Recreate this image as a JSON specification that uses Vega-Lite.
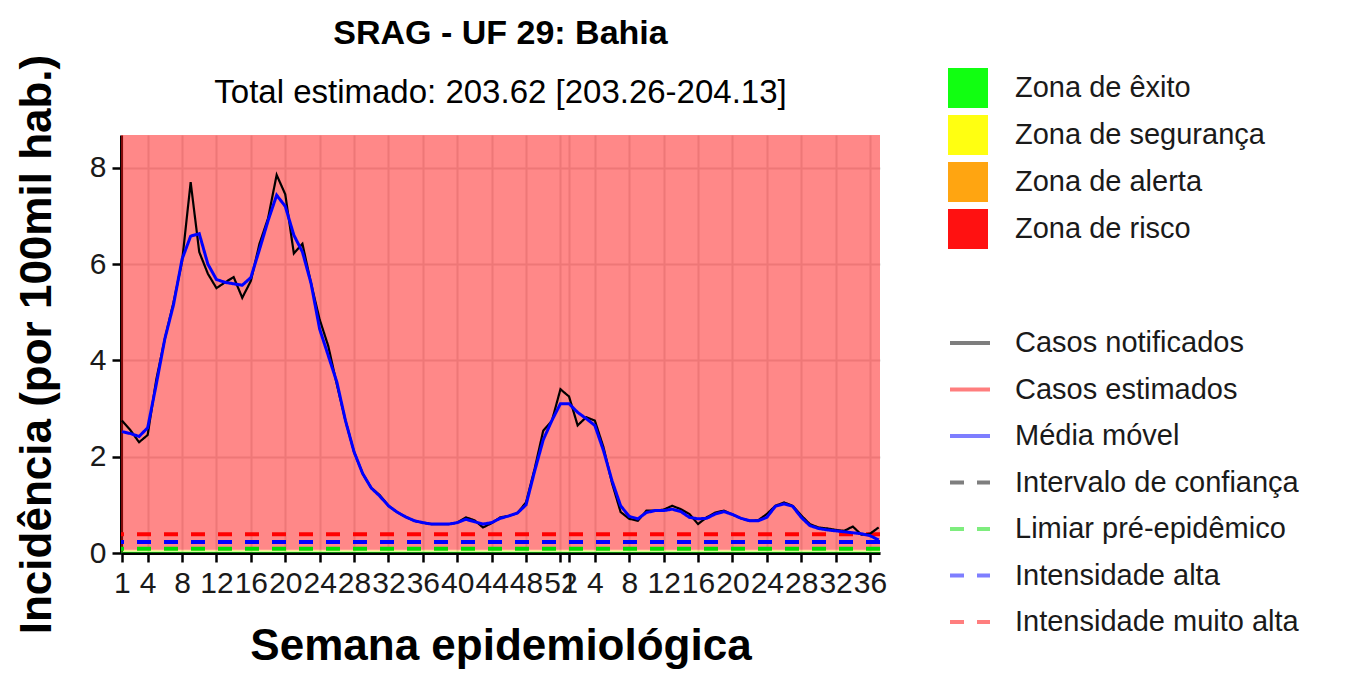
{
  "$schema": "https://vega.github.io/schema/vega-lite/v6.json",
  "width": 759,
  "height": 418,
  "autosize": {"type": "none"},
  "padding": {"left": 121, "top": 135, "right": 476, "bottom": 124},
  "background": "white",
  "title": {
    "text": "SRAG - UF 29: Bahia",
    "subtitle": "Total estimado: 203.62 [203.26-204.13]",
    "anchor": "middle",
    "font": "Liberation Sans",
    "fontSize": 34,
    "fontWeight": "bold",
    "color": "black",
    "subtitleFont": "Liberation Sans",
    "subtitleFontSize": 33,
    "subtitleColor": "black",
    "subtitlePadding": 26,
    "offset": -56
  },
  "config": {
    "font": "Liberation Sans",
    "view": {"stroke": null},
    "axis": {
      "domainColor": "black",
      "domainWidth": 3,
      "tickColor": "black",
      "tickSize": 9,
      "tickWidth": 2.5,
      "gridColor": "#dcdcdc",
      "gridWidth": 2,
      "labelFont": "Liberation Sans",
      "labelFontSize": 30,
      "labelColor": "#1a1a1a",
      "titleFont": "Liberation Sans",
      "titleFontSize": 44,
      "titleFontWeight": "bold",
      "titleColor": "black"
    }
  },
  "datasets": {
    "zonas": [
      {"zona": "Zona de êxito", "lo": 0, "hi": 0.03},
      {"zona": "Zona de segurança", "lo": 0.03, "hi": 0.05},
      {"zona": "Zona de alerta", "lo": 0.05, "hi": 0.07},
      {"zona": "Zona de risco", "lo": 0.07, "hi": 8.68}
    ],
    "limiares": [
      {"serie": "Limiar pré-epidêmico", "v": 0.09},
      {"serie": "Intensidade alta", "v": 0.23},
      {"serie": "Intensidade muito alta", "v": 0.39}
    ],
    "notificados": [
      {"i": 0, "v": 2.75}, {"i": 1, "v": 2.55}, {"i": 2, "v": 2.30}, {"i": 3, "v": 2.45}, {"i": 4, "v": 3.6},
      {"i": 5, "v": 4.45}, {"i": 6, "v": 5.2}, {"i": 7, "v": 6.05}, {"i": 8, "v": 7.70}, {"i": 9, "v": 6.25},
      {"i": 10, "v": 5.80}, {"i": 11, "v": 5.50}, {"i": 12, "v": 5.62}, {"i": 13, "v": 5.73}, {"i": 14, "v": 5.30},
      {"i": 15, "v": 5.65}, {"i": 16, "v": 6.42}, {"i": 17, "v": 6.95}, {"i": 18, "v": 7.85}, {"i": 19, "v": 7.45},
      {"i": 20, "v": 6.22}, {"i": 21, "v": 6.42}, {"i": 22, "v": 5.6}, {"i": 23, "v": 4.85}, {"i": 24, "v": 4.3},
      {"i": 25, "v": 3.5}, {"i": 26, "v": 2.75}, {"i": 27, "v": 2.1}, {"i": 28, "v": 1.65}, {"i": 29, "v": 1.35},
      {"i": 30, "v": 1.2}, {"i": 31, "v": 0.98}, {"i": 32, "v": 0.85}, {"i": 33, "v": 0.75}, {"i": 34, "v": 0.67},
      {"i": 35, "v": 0.63}, {"i": 36, "v": 0.60}, {"i": 37, "v": 0.60}, {"i": 38, "v": 0.60}, {"i": 39, "v": 0.63},
      {"i": 40, "v": 0.74}, {"i": 41, "v": 0.68}, {"i": 42, "v": 0.53}, {"i": 43, "v": 0.62}, {"i": 44, "v": 0.74},
      {"i": 45, "v": 0.77}, {"i": 46, "v": 0.83}, {"i": 47, "v": 1.05}, {"i": 48, "v": 1.75}, {"i": 49, "v": 2.54},
      {"i": 50, "v": 2.74}, {"i": 51, "v": 3.40}, {"i": 52, "v": 3.25}, {"i": 53, "v": 2.65}, {"i": 54, "v": 2.82},
      {"i": 55, "v": 2.75}, {"i": 56, "v": 2.2}, {"i": 57, "v": 1.45}, {"i": 58, "v": 0.85}, {"i": 59, "v": 0.71},
      {"i": 60, "v": 0.67}, {"i": 61, "v": 0.88}, {"i": 62, "v": 0.88}, {"i": 63, "v": 0.9}, {"i": 64, "v": 0.98},
      {"i": 65, "v": 0.91}, {"i": 66, "v": 0.81}, {"i": 67, "v": 0.60}, {"i": 68, "v": 0.74}, {"i": 69, "v": 0.84},
      {"i": 70, "v": 0.88}, {"i": 71, "v": 0.80}, {"i": 72, "v": 0.72}, {"i": 73, "v": 0.67}, {"i": 74, "v": 0.68},
      {"i": 75, "v": 0.81}, {"i": 76, "v": 0.98}, {"i": 77, "v": 1.05}, {"i": 78, "v": 0.98}, {"i": 79, "v": 0.78},
      {"i": 80, "v": 0.60}, {"i": 81, "v": 0.53}, {"i": 82, "v": 0.51}, {"i": 83, "v": 0.48}, {"i": 84, "v": 0.46},
      {"i": 85, "v": 0.55}, {"i": 86, "v": 0.38}, {"i": 87, "v": 0.40}, {"i": 88, "v": 0.53}
    ],
    "media": [
      {"i": 0, "v": 2.52}, {"i": 1, "v": 2.48}, {"i": 2, "v": 2.42}, {"i": 3, "v": 2.6}, {"i": 4, "v": 3.5},
      {"i": 5, "v": 4.45}, {"i": 6, "v": 5.15}, {"i": 7, "v": 6.1}, {"i": 8, "v": 6.58}, {"i": 9, "v": 6.63},
      {"i": 10, "v": 6.0}, {"i": 11, "v": 5.68}, {"i": 12, "v": 5.62}, {"i": 13, "v": 5.59}, {"i": 14, "v": 5.56},
      {"i": 15, "v": 5.72}, {"i": 16, "v": 6.3}, {"i": 17, "v": 6.9}, {"i": 18, "v": 7.43}, {"i": 19, "v": 7.2},
      {"i": 20, "v": 6.6}, {"i": 21, "v": 6.25}, {"i": 22, "v": 5.6}, {"i": 23, "v": 4.65}, {"i": 24, "v": 4.1},
      {"i": 25, "v": 3.55}, {"i": 26, "v": 2.75}, {"i": 27, "v": 2.1}, {"i": 28, "v": 1.65}, {"i": 29, "v": 1.35},
      {"i": 30, "v": 1.18}, {"i": 31, "v": 0.98}, {"i": 32, "v": 0.85}, {"i": 33, "v": 0.75}, {"i": 34, "v": 0.67},
      {"i": 35, "v": 0.63}, {"i": 36, "v": 0.60}, {"i": 37, "v": 0.60}, {"i": 38, "v": 0.60}, {"i": 39, "v": 0.63},
      {"i": 40, "v": 0.70}, {"i": 41, "v": 0.65}, {"i": 42, "v": 0.60}, {"i": 43, "v": 0.63}, {"i": 44, "v": 0.72},
      {"i": 45, "v": 0.77}, {"i": 46, "v": 0.83}, {"i": 47, "v": 1.0}, {"i": 48, "v": 1.7}, {"i": 49, "v": 2.35},
      {"i": 50, "v": 2.75}, {"i": 51, "v": 3.1}, {"i": 52, "v": 3.1}, {"i": 53, "v": 2.92}, {"i": 54, "v": 2.79},
      {"i": 55, "v": 2.65}, {"i": 56, "v": 2.13}, {"i": 57, "v": 1.5}, {"i": 58, "v": 0.98}, {"i": 59, "v": 0.76},
      {"i": 60, "v": 0.71}, {"i": 61, "v": 0.84}, {"i": 62, "v": 0.88}, {"i": 63, "v": 0.88}, {"i": 64, "v": 0.91},
      {"i": 65, "v": 0.86}, {"i": 66, "v": 0.74}, {"i": 67, "v": 0.71}, {"i": 68, "v": 0.72}, {"i": 69, "v": 0.81},
      {"i": 70, "v": 0.86}, {"i": 71, "v": 0.80}, {"i": 72, "v": 0.72}, {"i": 73, "v": 0.67}, {"i": 74, "v": 0.67},
      {"i": 75, "v": 0.74}, {"i": 76, "v": 0.97}, {"i": 77, "v": 1.02}, {"i": 78, "v": 0.97}, {"i": 79, "v": 0.74},
      {"i": 80, "v": 0.57}, {"i": 81, "v": 0.51}, {"i": 82, "v": 0.48}, {"i": 83, "v": 0.46}, {"i": 84, "v": 0.44},
      {"i": 85, "v": 0.42}, {"i": 86, "v": 0.40}, {"i": 87, "v": 0.36}, {"i": 88, "v": 0.27}
    ]
  },
  "layer": [
    {
      "data": {"name": "zonas"},
      "mark": {"type": "rect", "opacity": 0.5},
      "encoding": {
        "y": {
          "field": "lo", "type": "quantitative",
          "scale": {"domain": [0, 8.68], "nice": false, "zero": true},
          "axis": {
            "values": [0, 2, 4, 6, 8],
            "title": "Incidência (por 100mil hab.)",
            "titlePadding": 30,
            "labelPadding": 6
          }
        },
        "y2": {"field": "hi"},
        "fill": {
          "field": "zona", "type": "nominal",
          "scale": {
            "domain": ["Zona de êxito", "Zona de segurança", "Zona de alerta", "Zona de risco"],
            "range": ["#11ff11", "#ffff11", "#ffa511", "#ff1111"]
          },
          "legend": {
            "title": null,
            "orient": "none",
            "legendX": 827,
            "legendY": -67,
            "symbolType": "square",
            "symbolSize": 1600,
            "symbolOpacity": 1,
            "symbolStrokeWidth": 0,
            "labelFontSize": 29,
            "labelLimit": 500,
            "labelColor": "#1a1a1a",
            "labelOffset": 27,
            "rowPadding": 7,
            "padding": 0
          }
        }
      }
    },
    {
      "data": {"name": "limiares"},
      "mark": {"type": "rule", "strokeWidth": 4},
      "encoding": {
        "y": {"field": "v", "type": "quantitative"},
        "color": {
          "field": "serie", "type": "nominal",
          "scale": {
            "domain": ["Casos notificados", "Casos estimados", "Média móvel", "Intervalo de confiança", "Limiar pré-epidêmico", "Intensidade alta", "Intensidade muito alta"],
            "range": ["#000000", "#ff0000", "#0000ff", "#000000", "#00dd00", "#0000ff", "#ff0000"]
          },
          "legend": {
            "title": null,
            "orient": "none",
            "legendX": 827,
            "legendY": 186,
            "symbolType": "stroke",
            "symbolSize": 1600,
            "symbolStrokeWidth": 4,
            "symbolOpacity": 0.5,
            "labelFontSize": 29,
            "labelLimit": 500,
            "labelColor": "#1a1a1a",
            "labelOffset": 23,
            "rowPadding": 9.5,
            "padding": 0
          }
        },
        "strokeDash": {
          "field": "serie", "type": "nominal",
          "scale": {
            "domain": ["Casos notificados", "Casos estimados", "Média móvel", "Intervalo de confiança", "Limiar pré-epidêmico", "Intensidade alta", "Intensidade muito alta"],
            "range": [[1, 0], [1, 0], [1, 0], [14, 13], [14, 13], [14, 13], [14, 13]]
          },
          "legend": {
            "title": null,
            "orient": "none",
            "legendX": 827,
            "legendY": 186,
            "symbolType": "stroke",
            "symbolSize": 1600,
            "symbolStrokeWidth": 4,
            "symbolOpacity": 0.5,
            "labelFontSize": 29,
            "labelLimit": 500,
            "labelColor": "#1a1a1a",
            "labelOffset": 23,
            "rowPadding": 9.5,
            "padding": 0
          }
        }
      }
    },
    {
      "data": {"name": "notificados"},
      "transform": [{"calculate": "'Casos notificados'", "as": "serie"}],
      "mark": {"type": "line", "strokeWidth": 2.2},
      "encoding": {
        "x": {
          "field": "i", "type": "quantitative",
          "scale": {"domain": [-0.1, 88.16], "nice": false, "zero": false},
          "axis": {
            "values": [0, 3, 7, 11, 15, 19, 23, 27, 31, 35, 39, 43, 47, 51, 52, 55, 59, 63, 67, 71, 75, 79, 83, 87],
            "tickCount": 40,
            "labelExpr": "datum.value <= 51 ? datum.value + 1 : datum.value - 51",
            "labelOverlap": false,
            "labelFlush": false,
            "labelPadding": 6,
            "title": "Semana epidemiológica",
            "titlePadding": 26
          }
        },
        "y": {"field": "v", "type": "quantitative"},
        "color": {"field": "serie", "type": "nominal"},
        "strokeDash": {"field": "serie", "type": "nominal"}
      }
    },
    {
      "data": {"name": "media"},
      "transform": [{"calculate": "'Média móvel'", "as": "serie"}],
      "mark": {"type": "line", "strokeWidth": 3},
      "encoding": {
        "x": {"field": "i", "type": "quantitative"},
        "y": {"field": "v", "type": "quantitative"},
        "color": {"field": "serie", "type": "nominal"},
        "strokeDash": {"field": "serie", "type": "nominal"}
      }
    }
  ]
}
